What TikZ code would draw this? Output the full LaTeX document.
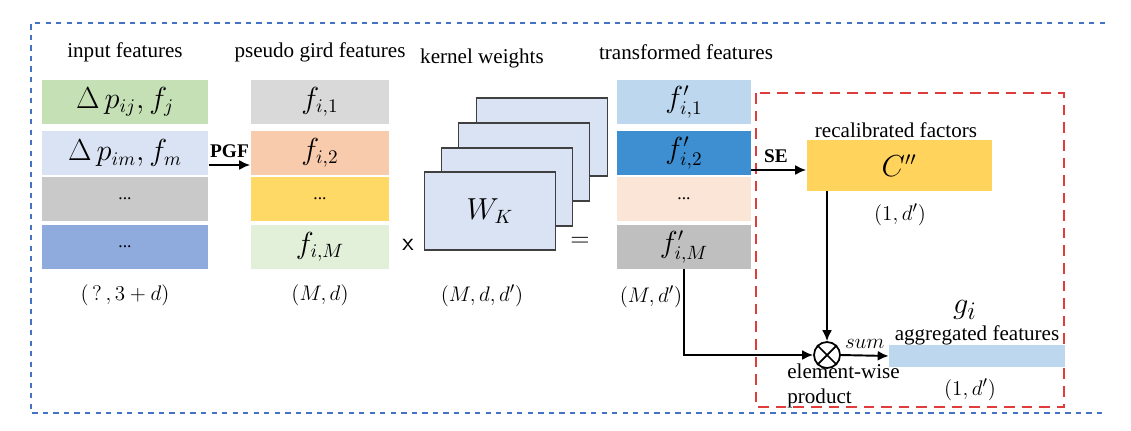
\documentclass[tikz,border=0pt]{standalone}
\usepackage{fontspec}
\setmainfont{Liberation Serif}
\usetikzlibrary{arrows.meta}
\definecolor{ingreen}{HTML}{C5E0B4}
\definecolor{inlav}{HTML}{DAE3F3}
\definecolor{ingray}{HTML}{C9C9C9}
\definecolor{inblue}{HTML}{8FAADC}
\definecolor{pggray}{HTML}{D9D9D9}
\definecolor{pgpeach}{HTML}{F8CBAD}
\definecolor{pggold}{HTML}{FFD966}
\definecolor{pggreen}{HTML}{E2F0D9}
\definecolor{tflblue}{HTML}{BDD7EE}
\definecolor{tfblue}{HTML}{3E8ED2}
\definecolor{tfpeach}{HTML}{FBE5D6}
\definecolor{tfgray}{HTML}{BFBFBF}
\definecolor{kerfill}{HTML}{DAE3F3}
\definecolor{cfill}{HTML}{FFD35C}
\definecolor{frameblue}{HTML}{4472C4}
\definecolor{framered}{HTML}{E03C3C}
\begin{document}
\begin{tikzpicture}[x=0.02cm,y=-0.02cm,
    lbl/.style={font=\fontsize{12}{14}\selectfont},
    dim/.style={font=\fontsize{13}{15}\selectfont},
    feat/.style={minimum height=0.88cm,inner sep=0,font=\fontsize{16}{19}\selectfont},
    incell/.style={feat,minimum width=3.34cm},
    pgcell/.style={feat,minimum width=2.78cm},
    tfcell/.style={feat,minimum width=2.68cm},
    kern/.style={draw=black!75,line width=0.9pt,fill=kerfill,minimum width=2.62cm,minimum height=1.56cm},
    arr/.style={-{Latex[length=2.2mm,width=2mm]},line width=1.1pt}]
    \useasboundingbox (0,0) rectangle (1131,430);
    \draw[frameblue,dashed,line width=0.8pt] (1105,23) -- (31,23) -- (31,413) -- (1103,413);
    \node[lbl] (inlbl) at (125,52) {input features};
    \node[incell,fill=ingreen] (in1) at (125,102) {$\Delta\,p_{ij},f_j$};
    \node[incell,fill=inlav] (in2) at (125,153) {$\Delta\,p_{im},f_m$};
    \node[incell,fill=ingray] (in3) at (125,199) {\normalsize ...};
    \node[incell,fill=inblue] (in4) at (125,247) {\normalsize ...};
    \node[dim] (indim) at (125,295) {$(\,?\,,3+d)$};
    \node[lbl] (pglbl) at (320,52) {pseudo gird features};
    \node[pgcell,fill=pggray] (pg1) at (320,102) {$f_{i,1}$};
    \node[pgcell,fill=pgpeach] (pg2) at (320,153) {$f_{i,2}$};
    \node[pgcell,fill=pggold] (pg3) at (320,199) {\normalsize ...};
    \node[pgcell,fill=pggreen] (pg4) at (320,247) {$f_{i,M}$};
    \node[dim] (pgdim) at (320,295) {$(M,d)$};
    \draw[arr] ([yshift=-0.24cm]in2.east) -- ([yshift=-0.24cm]pg2.west) node[midway,above,font=\fontsize{11}{13}\selectfont\bfseries] {PGF};
    \node[font=\sffamily\Large] (times) at (408,245) {x};
    \node[kern] (k4) at (542,137) {};
    \node[kern] (k3) at (524,162) {};
    \node[kern] (k2) at (507,187) {};
    \node[kern,font=\fontsize{16}{19}\selectfont] (k1) at (490,211) {$W_K$};
    \node[lbl] (klbl) at (482,58) {kernel weights};
    \node[dim] (kdim) at (482,296) {$(M,d,d')$};
    \node[font=\Large] (eq) at (580,242) {$=$};
    \node[lbl] (tflbl) at (686,52) {transformed features};
    \node[tfcell,fill=tflblue] (tf1) at (684,102) {$f'_{i,1}$};
    \node[tfcell,fill=tfblue] (tf2) at (684,153) {$f'_{i,2}$};
    \node[tfcell,fill=tfpeach] (tf3) at (684,199) {\normalsize ...};
    \node[tfcell,fill=tfgray] (tf4) at (684,247) {$f'_{i,M}$};
    \node[dim] (tfdim) at (651,297) {$(M,d')$};
    \draw[framered,dashed,line width=1.6pt,dash pattern=on 6pt off 4pt] (756,93) rectangle (1064,407);
    \node[fill=cfill,minimum width=3.7cm,minimum height=1.02cm,inner sep=0,font=\fontsize{16}{19}\selectfont] (cpp) at (899,165.5) {$C''$};
    \node[lbl] (clbl) at (896,130) {recalibrated factors};
    \node[dim] (cdim) at (900,215) {$(1,d')$};
    \node[circle,draw,line width=1pt,minimum size=0.52cm,inner sep=0] (mul) at (827,355) {};
    \draw[line width=1pt] (mul.north west) -- (mul.south east) (mul.north east) -- (mul.south west);
    \node[fill=tflblue,minimum width=3.52cm,minimum height=0.44cm,inner sep=0] (agg) at (977,356) {};
    \node[font=\fontsize{19}{22}\selectfont] (gi) at (965,310) {$g_i$};
    \node[lbl] (agglbl) at (977,335) {aggregated features};
    \node[dim] (aggdim) at (970,390) {$(1,d')$};
    \node[lbl,anchor=north west,align=left,inner sep=0] (ewlbl) at (787,364) {element-wise\\product};
    \draw[arr] ([yshift=-0.34cm]tf2.east) -- ([yshift=-0.34cm]tf2.east -| cpp.west) node[pos=0.45,above,font=\fontsize{11}{13}\selectfont\bfseries] {SE};
    \draw[arr] (cpp.south -| mul.north) -- (mul.north);
    \draw[arr] (tf4.south) |- (mul.west);
    \draw[arr] (mul.east) -- (agg.west) node[midway,above,font=\large] {$sum$};
\end{tikzpicture}
\end{document}
